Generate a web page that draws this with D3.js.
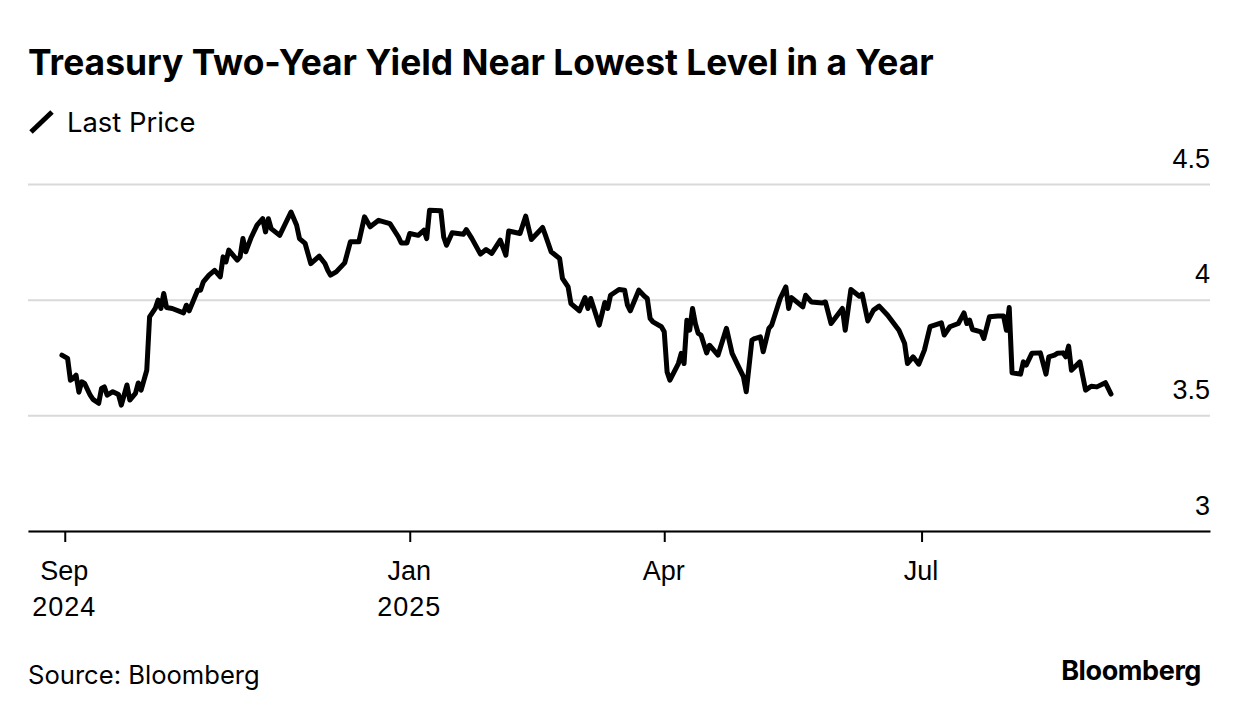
<!DOCTYPE html>
<html>
<head>
<meta charset="utf-8">
<script src="https://cdn.jsdelivr.net/npm/d3@7"></script>
<style>
  body { margin: 0; background: #fff; }
  svg { font-family: Inter, "Noto Sans", sans-serif; }
  .grid line { stroke: #d9d9d9; stroke-width: 2; }
  .y-axis text { font-size: 27px; fill: #000; }
  .x-axis text { font-size: 27px; fill: #000; }
</style>
</head>
<body>
<svg width="1240" height="716"></svg>
<script>
// Data (2-year Treasury yield, %)
let dates = [
  "2024-08-31","2024-09-02","2024-09-03","2024-09-04","2024-09-05","2024-09-06","2024-09-07","2024-09-08",
  "2024-09-10","2024-09-11","2024-09-13","2024-09-14","2024-09-15","2024-09-16","2024-09-18","2024-09-20",
  "2024-09-21","2024-09-23","2024-09-24","2024-09-26","2024-09-27","2024-09-28","2024-09-30","2024-10-01",
  "2024-10-03","2024-10-04","2024-10-05","2024-10-06","2024-10-07","2024-10-09","2024-10-13","2024-10-14",
  "2024-10-15","2024-10-18","2024-10-19","2024-10-20","2024-10-22","2024-10-24","2024-10-26","2024-10-27",
  "2024-10-28","2024-10-29","2024-11-01","2024-11-02","2024-11-03","2024-11-04","2024-11-06","2024-11-08",
  "2024-11-10","2024-11-11","2024-11-12","2024-11-13","2024-11-16","2024-11-20","2024-11-22","2024-11-23",
  "2024-11-25","2024-11-27","2024-11-30","2024-12-02","2024-12-03","2024-12-04","2024-12-06","2024-12-09",
  "2024-12-11","2024-12-14","2024-12-16","2024-12-18","2024-12-21","2024-12-25","2024-12-28","2024-12-29",
  "2024-12-31","2025-01-01","2025-01-04","2025-01-06","2025-01-07","2025-01-08","2025-01-12","2025-01-13",
  "2025-01-14","2025-01-16","2025-01-20","2025-01-21","2025-01-23","2025-01-26","2025-01-28","2025-01-30",
  "2025-02-02","2025-02-04","2025-02-05","2025-02-09","2025-02-11","2025-02-13","2025-02-17","2025-02-18",
  "2025-02-20","2025-02-23","2025-02-24","2025-02-26","2025-02-27","2025-03-02","2025-03-04","2025-03-05",
  "2025-03-06","2025-03-09","2025-03-11","2025-03-12","2025-03-13","2025-03-16","2025-03-18","2025-03-19",
  "2025-03-20","2025-03-23","2025-03-25","2025-03-26","2025-03-27","2025-03-28","2025-03-31","2025-04-01",
  "2025-04-02","2025-04-03","2025-04-06","2025-04-07","2025-04-08","2025-04-09","2025-04-10","2025-04-11",
  "2025-04-12","2025-04-13","2025-04-14","2025-04-16","2025-04-17","2025-04-20","2025-04-23","2025-04-25",
  "2025-04-27","2025-04-29","2025-04-30","2025-05-02","2025-05-03","2025-05-05","2025-05-06","2025-05-08",
  "2025-05-09","2025-05-12","2025-05-14","2025-05-15","2025-05-16","2025-05-20","2025-05-21","2025-05-23",
  "2025-05-27","2025-05-28","2025-05-30","2025-06-03","2025-06-04","2025-06-06","2025-06-09","2025-06-10",
  "2025-06-12","2025-06-14","2025-06-16","2025-06-19","2025-06-23","2025-06-25","2025-06-26","2025-06-28",
  "2025-06-30","2025-07-02","2025-07-04","2025-07-08","2025-07-09","2025-07-11","2025-07-14","2025-07-16",
  "2025-07-17","2025-07-18","2025-07-19","2025-07-22","2025-07-23","2025-07-25","2025-07-28","2025-07-30",
  "2025-07-31","2025-08-01","2025-08-02","2025-08-05","2025-08-06","2025-08-07","2025-08-09","2025-08-12",
  "2025-08-14","2025-08-15","2025-08-17","2025-08-18","2025-08-20","2025-08-21","2025-08-22","2025-08-23",
  "2025-08-26","2025-08-28","2025-08-30","2025-09-01","2025-09-04","2025-09-06"
];

let yields = [
  3.760,3.746,3.652,3.660,3.674,3.600,3.645,3.638,
  3.587,3.569,3.552,3.616,3.623,3.587,3.602,3.590,
  3.544,3.631,3.566,3.595,3.640,3.609,3.695,3.926,
  3.962,3.998,3.962,4.027,3.966,3.962,3.943,3.976,
  3.952,4.041,4.041,4.077,4.106,4.127,4.099,4.185,
  4.163,4.214,4.171,4.185,4.264,4.207,4.271,4.322,
  4.350,4.293,4.350,4.307,4.278,4.379,4.322,4.264,
  4.243,4.156,4.188,4.156,4.127,4.106,4.120,4.159,
  4.250,4.250,4.358,4.315,4.343,4.329,4.271,4.245,
  4.245,4.286,4.278,4.300,4.264,4.387,4.384,4.271,
  4.235,4.289,4.283,4.303,4.264,4.197,4.217,4.200,
  4.257,4.192,4.297,4.286,4.361,4.260,4.312,4.278,
  4.207,4.178,4.092,4.055,3.983,3.952,4.009,3.962,
  4.005,3.890,3.988,3.962,4.019,4.044,4.041,3.976,
  3.952,4.041,4.015,4.005,3.919,3.904,3.883,3.861,
  3.688,3.652,3.724,3.768,3.724,3.911,3.868,3.962,
  3.897,3.854,3.847,3.770,3.803,3.760,3.876,3.768,
  3.717,3.667,3.602,3.825,3.832,3.839,3.775,3.876,
  3.890,4.005,4.055,3.962,4.009,3.969,4.019,3.990,
  3.986,3.990,3.897,3.962,3.868,4.044,4.015,4.024,
  3.908,3.955,3.972,3.933,3.868,3.811,3.724,3.753,
  3.721,3.782,3.883,3.900,3.847,3.883,3.897,3.943,
  3.897,3.911,3.871,3.861,3.832,3.926,3.929,3.929,
  3.868,3.966,3.684,3.678,3.731,3.717,3.768,3.770,
  3.678,3.753,3.760,3.768,3.770,3.753,3.799,3.695,
  3.731,3.609,3.626,3.623,3.641,3.592
];

let xTickDates = ["2024-09-01", "2025-01-01", "2025-04-01", "2025-07-01"];
let xTickMonths = ["Sep", "Jan", "Apr", "Jul"];
let xTickYears = ["2024", "2025", "", ""];
let yTicks = [3, 3.5, 4, 4.5];
let yTickLabels = ["3", "3.5", "4", "4.5"];

let title = "Treasury Two-Year Yield Near Lowest Level in a Year";
let seriesName = "Last Price";
let source = "Source: Bloomberg";

// Layout
let svg = d3.select("svg");
let plotLeft = 28;
let plotRight = 1210;
let plotTop = 184;
let plotBottom = 531;

let parse = d3.timeParse("%Y-%m-%d");
let data = dates.map(function(d, i) { return {date: parse(d), value: yields[i]}; });

let xScale = d3.scaleTime()
    .domain([parse("2024-08-19"), parse("2025-10-11")])
    .range([plotLeft, plotRight]);

let yScale = d3.scaleLinear()
    .domain([3, 4.5])
    .range([plotBottom, plotTop]);

// Title and legend
svg.append("text")
    .attr("x", plotLeft)
    .attr("y", 75)
    .attr("font-size", 35.4)
    .attr("font-weight", 700)
    .text(title);

svg.append("line")
    .attr("x1", 31)
    .attr("y1", 132)
    .attr("x2", 52)
    .attr("y2", 112)
    .attr("stroke", "#000")
    .attr("stroke-width", 5);

svg.append("text")
    .attr("x", 67)
    .attr("y", 132)
    .attr("font-size", 27.4)
    .text(seriesName);

// Gridlines + y labels
let yAxis = d3.axisLeft(yScale)
    .tickValues(yTicks)
    .tickSize(plotRight - plotLeft)
    .tickFormat(function(d, i) { return yTickLabels[i]; });

let yg = svg.append("g")
    .attr("class", "y-axis grid")
    .attr("transform", "translate(" + plotRight + ",0)")
    .call(yAxis);

yg.select(".domain").remove();
yg.selectAll("text")
    .attr("x", 0)
    .attr("dy", -17)
    .attr("text-anchor", "end");

// X axis
let xAxis = d3.axisBottom(xScale)
    .tickValues(xTickDates.map(parse))
    .tickSize(11)
    .tickSizeOuter(0)
    .tickFormat("");

let xg = svg.append("g")
    .attr("class", "x-axis")
    .attr("transform", "translate(0," + plotBottom + ")")
    .call(xAxis);

xg.select(".domain").attr("stroke", "#000").attr("stroke-width", 2);
xg.selectAll(".tick line").attr("stroke", "#000").attr("stroke-width", 2);

xg.selectAll(".tick").each(function(d, i) {
    let t = d3.select(this).append("text")
        .attr("fill", "#000")
        .attr("text-anchor", "middle");
    t.append("tspan").attr("x", -1).attr("y", 49).text(xTickMonths[i]);
    if (xTickYears[i]) t.append("tspan").attr("x", -1).attr("y", 85).attr("letter-spacing", 1).text(xTickYears[i]);
});

// Line
let line = d3.line()
    .x(function(d) { return xScale(d.date); })
    .y(function(d) { return yScale(d.value); });

svg.append("path")
    .datum(data)
    .attr("d", line)
    .attr("fill", "none")
    .attr("stroke", "#000")
    .attr("stroke-width", 5)
    .attr("stroke-linejoin", "round")
    .attr("stroke-linecap", "round");

// Footer
svg.append("text")
    .attr("x", plotLeft)
    .attr("y", 684)
    .attr("font-size", 25.6)
    .text(source);

svg.append("text")
    .attr("x", 1201)
    .attr("y", 680)
    .attr("text-anchor", "end")
    .attr("font-size", 27)
    .attr("font-weight", 700)
    .attr("letter-spacing", -0.4)
    .text("Bloomberg");
</script>
</body>
</html>
